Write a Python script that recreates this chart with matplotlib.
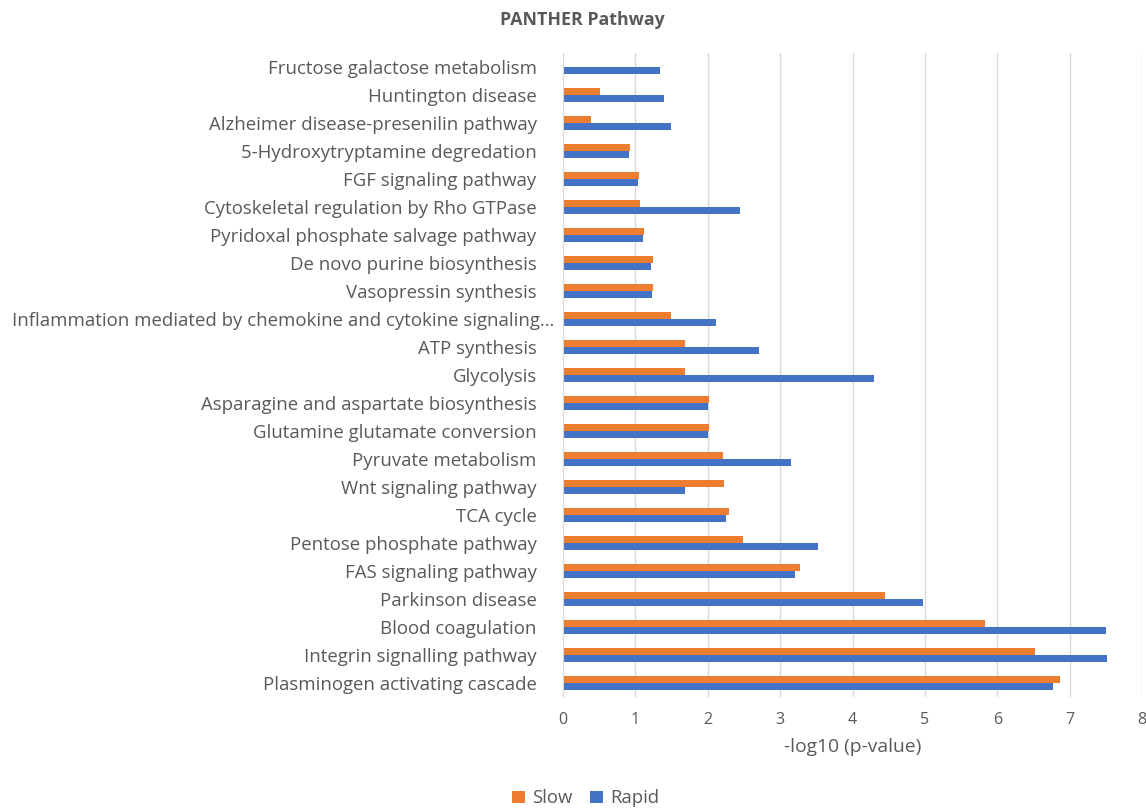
import matplotlib.pyplot as plt
import matplotlib.transforms as mtransforms
import numpy as np

# pathways, listed top to bottom as in the chart
pathways = [
    "Fructose galactose metabolism",
    "Huntington disease",
    "Alzheimer disease-presenilin pathway",
    "5-Hydroxytryptamine degredation",
    "FGF signaling pathway",
    "Cytoskeletal regulation by Rho GTPase",
    "Pyridoxal phosphate salvage pathway",
    "De novo purine biosynthesis",
    "Vasopressin synthesis",
    "Inflammation mediated by chemokine and cytokine signaling\u2026",
    "ATP synthesis",
    "Glycolysis",
    "Asparagine and aspartate biosynthesis",
    "Glutamine glutamate conversion",
    "Pyruvate metabolism",
    "Wnt signaling pathway",
    "TCA cycle",
    "Pentose phosphate pathway",
    "FAS signaling pathway",
    "Parkinson disease",
    "Blood coagulation",
    "Integrin signalling pathway",
    "Plasminogen activating cascade",
]

slow = [0.0, 0.51, 0.39, 0.93, 1.05, 1.06, 1.12, 1.25, 1.25, 1.49, 1.68, 1.69,
        2.02, 2.02, 2.21, 2.22, 2.29, 2.49, 3.28, 4.45, 5.83, 6.52, 6.87]
rapid = [1.34, 1.39, 1.49, 0.91, 1.03, 2.45, 1.11, 1.22, 1.23, 2.11, 2.71, 4.30,
         2.00, 2.00, 3.15, 1.69, 2.25, 3.53, 3.21, 4.97, 7.50, 7.51, 6.77]

ticks = list(range(0, 9))

plt.rcParams['font.family'] = ['Open Sans', 'DejaVu Sans']
grey = '#595959'

fig = plt.figure(figsize=(11.46, 8.09), dpi=100)
ax = fig.add_axes([0.4913, 0.1384, 0.5052, 0.7961])

y = np.arange(len(pathways))
h = 0.25
ax.barh(y - h / 2, slow, height=h, color='#ED7D31', label='Slow', zorder=3)
ax.barh(y + h / 2, rapid, height=h, color='#4472C4', label='Rapid', zorder=3)

ax.set_ylim(len(pathways) - 0.5, -0.5)
ax.set_xlim(0, 8)
ax.set_xticks(ticks)
ax.set_yticks(y)
ax.set_yticklabels(pathways, fontsize=13.4, color=grey)
ax.tick_params(axis='y', length=0, pad=19)
ax.tick_params(axis='x', length=0, pad=11, labelsize=11.5, labelcolor=grey)

# the truncated long label sticks out past the others, as in the original
for lbl in ax.get_yticklabels():
    if lbl.get_text().endswith('\u2026'):
        lbl.set_transform(lbl.get_transform() +
                          mtransforms.ScaledTranslation(0.18, 0, fig.dpi_scale_trans))

ax.grid(axis='x', color='#D9D9D9', linewidth=1, zorder=0)
for s in ['top', 'right', 'bottom']:
    ax.spines[s].set_visible(False)
ax.spines['left'].set_color('#D9D9D9')
ax.spines['left'].set_zorder(4)

ax.set_xlabel('-log10 (p-value)', fontsize=13.9, color=grey, labelpad=7)

fig.text(0.508, 0.975, 'PANTHER Pathway', ha='center', va='center',
         fontsize=12.8, fontweight='bold', color=grey)

handles, labels = ax.get_legend_handles_labels()
fig.legend(handles, labels, loc='center', bbox_to_anchor=(0.511, 0.013), ncol=2,
           frameon=False, fontsize=13.3, labelcolor=grey, handlelength=0.7,
           handleheight=0.7, handletextpad=0.35, columnspacing=1.0)

plt.savefig('out.png', dpi=100, facecolor='white')
